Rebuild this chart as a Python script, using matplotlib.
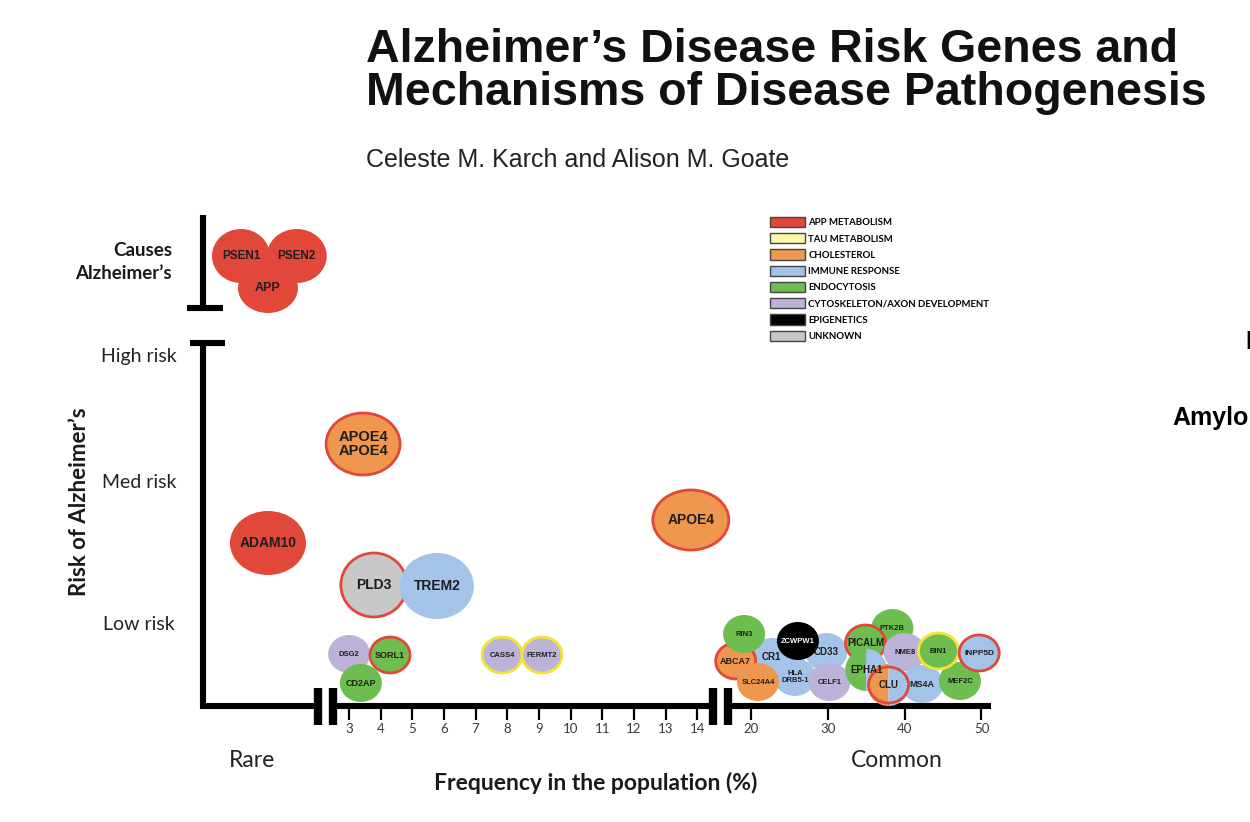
import numpy as np
import matplotlib
matplotlib.use("Agg")
import matplotlib.pyplot as plt
from matplotlib.patches import Ellipse, Wedge, Patch
from matplotlib.transforms import ScaledTranslation

# ---- data ---------------------------------------------------------------
categories = ["APP METABOLISM", "TAU METABOLISM", "CHOLESTEROL", "IMMUNE RESPONSE",
              "ENDOCYTOSIS", "CYTOSKELETON/AXON DEVELOPMENT", "EPIGENETICS", "UNKNOWN"]
cat_colors = ["#e2483a", "#fdf6a8", "#f0974f", "#a3c4e8", "#6dbe4f", "#bdb3d9", "#000000", "#c8c8c8"]

# frequency (%): values < 2 sit in the (not to scale) "rare" zone
genes = ["PSEN1", "PSEN2", "APP", "ADAM10", "APOE4\nAPOE4", "PLD3", "TREM2", "APOE4",
         "DSG2", "SORL1", "CD2AP", "CASS4", "FERMT2",
         "CR1", "HLA\nDRB5-1", "CD33", "ABCA7", "SLC24A4", "RIN3", "ZCWPW1", "CELF1",
         "PTK2B", "PICALM", "NME8", "EPHA1", "MS4A", "CLU", "MEF2C", "BIN1", "INPP5D"]
freq = [0.66, 1.63, 1.13, 1.13, 3.45, 3.79, 5.78, 13.8,
        3.01, 4.30, 3.38, 7.84, 9.10,
        22.7, 25.7, 29.8, 18.0, 20.9, 19.1, 26.1, 30.2,
        38.4, 34.9, 40.0, 35.0, 42.3, 37.9, 47.2, 44.4, 49.7]
risk = [4.50, 4.50, 4.18, 1.63, 2.62, 1.21, 1.20, 1.86,
        0.52, 0.51, 0.23, 0.51, 0.51,
        0.49, 0.29, 0.54, 0.45, 0.24, 0.72, 0.65, 0.24,
        0.78, 0.63, 0.54, 0.36, 0.22, 0.21, 0.25, 0.55, 0.53]
pathway = ["APP METABOLISM", "APP METABOLISM", "APP METABOLISM", "APP METABOLISM",
           "CHOLESTEROL", "UNKNOWN", "IMMUNE RESPONSE", "CHOLESTEROL",
           "CYTOSKELETON/AXON DEVELOPMENT", "ENDOCYTOSIS", "ENDOCYTOSIS",
           "CYTOSKELETON/AXON DEVELOPMENT", "CYTOSKELETON/AXON DEVELOPMENT",
           "IMMUNE RESPONSE", "IMMUNE RESPONSE", "IMMUNE RESPONSE", "CHOLESTEROL", "CHOLESTEROL",
           "ENDOCYTOSIS", "EPIGENETICS", "CYTOSKELETON/AXON DEVELOPMENT",
           "ENDOCYTOSIS", "ENDOCYTOSIS", "CYTOSKELETON/AXON DEVELOPMENT", "ENDOCYTOSIS",
           "IMMUNE RESPONSE", "CHOLESTEROL", "ENDOCYTOSIS", "ENDOCYTOSIS", "IMMUNE RESPONSE"]
pathway2 = {"EPHA1": "IMMUNE RESPONSE", "CLU": "IMMUNE RESPONSE"}
ring = {"APOE4\nAPOE4": "APP METABOLISM", "APOE4": "APP METABOLISM", "PLD3": "APP METABOLISM",
        "SORL1": "APP METABOLISM", "ABCA7": "APP METABOLISM", "PICALM": "APP METABOLISM",
        "CLU": "APP METABOLISM", "INPP5D": "APP METABOLISM",
        "CASS4": "TAU METABOLISM", "FERMT2": "TAU METABOLISM", "BIN1": "TAU METABOLISM"}

risk_ticks = [0.83, 2.25, 3.51]
risk_labels = ["Low risk", "Med risk", "High risk"]
freq_ticks = [3, 4, 5, 6, 7, 8, 9, 10, 11, 12, 13, 14, 20, 30, 40, 50]

# ---- style: bubble size in pixels (w, h) and label size ----------------
big = {"PSEN1": (58, 54, 8.5), "PSEN2": (60, 54, 8.5), "APP": (60, 50, 9),
       "ADAM10": (76, 64, 10), "APOE4\nAPOE4": (76, 64, 10.5), "PLD3": (68, 66, 10),
       "TREM2": (74, 66, 10), "APOE4": (78, 62, 10)}
small = (42, 38, 5.5)
mid_lab = {"PICALM": 7, "EPHA1": 7, "CLU": 7, "CR1": 7, "CD33": 7,
           "MS4A": 6.5, "INPP5D": 6, "SORL1": 6.5, "CD2AP": 6.5, "ABCA7": 6.5}

W, H = 1250, 822
fig = plt.figure(figsize=(W / 100, H / 100), dpi=100)
plt.rcParams["font.family"] = ["Liberation Sans", "DejaVu Sans"]

ax = fig.add_axes([203 / W, 116 / H, 790 / W, 491 / H])
# broken x axis: rare zone | 3-14 % | 20-50 %
kx = [-2, 0, 2, 2.5, 14.5, 17, 51.5, 60]
ku = [88, 203, 318, 333, 713, 728, 993, 1062]
ax.set_xscale("function", functions=(lambda v: np.interp(v, kx, ku),
                                     lambda u: np.interp(u, ku, kx)))
ax.set_xlim(0, 51.5)
ax.set_ylim(0, 4.91)
for s in ax.spines.values():
    s.set_visible(False)
ax.patch.set_alpha(0)

ax.set_xticks(freq_ticks)
ax.set_xticklabels([str(t) for t in freq_ticks], fontfamily="Lato", fontsize=9.5, color="#3a3a3a")
ax.tick_params(axis="x", length=10, width=1.6, pad=2, direction="out")
ax.set_yticks(risk_ticks)
ax.set_yticklabels(risk_labels, fontfamily="Lato", fontsize=14, color="#222222")
ax.tick_params(axis="y", length=0, pad=46)
for t in ax.get_yticklabels():
    t.set_ha("center")

# axis lines
lw = 4.4
kw = dict(color="black", clip_on=False, solid_joinstyle="miter", solid_capstyle="butt", zorder=2)
ax.plot([0, 0, 2], [3.63, 0, 0], lw=lw, **kw)
ax.plot([2.5, 14.5], [0, 0], lw=lw, **kw)
ax.plot([17, 51.2], [0, 0], lw=lw, **kw)
for bx in [2, 2.5, 14.5, 17]:
    ax.plot([bx, bx], [-0.19, 0.18], lw=6, **kw)
ax.plot([-0.23, 0.38], [3.63, 3.63], lw=lw, **kw)
ax.plot([0, 0], [3.98, 4.91], lw=lw, **kw)
ax.plot([-0.28, 0.35], [3.98, 3.98], lw=lw, **kw)

col = dict(zip(categories, cat_colors))


def bubble(x, y, w, h, fc, fc2=None, ec=None, z=3):
    tr = fig.dpi_scale_trans + ScaledTranslation(x, y, ax.transData)
    if fc2 is None:
        ax.add_patch(Ellipse((0, 0), w / 100, h / 100, transform=tr, fc=fc, ec="none",
                             clip_on=False, zorder=z))
    else:
        r = w / 200
        ax.add_patch(Wedge((0, 0), r, 90, 270, transform=tr, fc=fc, ec="none", clip_on=False, zorder=z))
        ax.add_patch(Wedge((0, 0), r, 270, 90, transform=tr, fc=fc2, ec="none", clip_on=False, zorder=z))
    if ec is not None:
        ax.add_patch(Ellipse((0, 0), w / 100 - 0.02, h / 100 - 0.02, transform=tr, fc="none",
                             ec=ec, lw=2, clip_on=False, zorder=z + 0.01))


for i, g in enumerate(genes):
    w, h, fs = big.get(g, small)
    fs = mid_lab.get(g, fs)
    z = 3 + i * 0.05
    ec = col[ring[g]] if g in ring else None
    if ec == col["TAU METABOLISM"]:
        ec = "#f4e433"
    fc2 = col[pathway2[g]] if g in pathway2 else None
    bubble(freq[i], risk[i], w, h, col[pathway[i]], fc2, ec, z)
    ax.text(freq[i], risk[i], g, ha="center", va="center", fontsize=fs, fontweight="bold",
            color="white" if pathway[i] == "EPIGENETICS" else "#1e1e1e",
            linespacing=1.0, zorder=10, clip_on=False)

# legend
handles = [Patch(fc=c, ec="#444444", lw=1) for c in cat_colors]
fig.legend(handles, categories, loc="upper left", bbox_to_anchor=(770 / W, 1 - 217 / H),
           frameon=False, prop=dict(family="Lato", weight="bold", size=6.9),
           handlelength=3.6, handleheight=1.25, labelspacing=0.62, handletextpad=0.4,
           borderpad=0, borderaxespad=0)

# texts
fig.text(366 / W, 1 - 62 / H, "Alzheimer\u2019s Disease Risk Genes and", fontsize=33.5,
         fontweight="bold", va="baseline", color="#111111")
fig.text(366 / W, 1 - 105 / H, "Mechanisms of Disease Pathogenesis", fontsize=33.5,
         fontweight="bold", va="baseline", color="#111111")
fig.text(366 / W, 1 - 167 / H, "Celeste M. Karch and Alison M. Goate", fontsize=18,
         va="baseline", color="#222222")
fig.text(172 / W, 1 - 262 / H, "Causes\nAlzheimer\u2019s", fontfamily="Lato", fontsize=13.5,
         fontweight="bold", ha="right", va="center", linespacing=1.4, color="#1a1a1a")
fig.text(80 / W, 1 - 502 / H, "Risk of Alzheimer\u2019s", fontfamily="Lato", fontsize=16,
         fontweight="bold", rotation=90, ha="center", va="center", color="#1a1a1a")
fig.text(252 / W, 1 - 760 / H, "Rare", fontfamily="Lato", fontsize=16.5, ha="center",
         va="center", color="#222222")
fig.text(897 / W, 1 - 760 / H, "Common", fontfamily="Lato", fontsize=16.5, ha="center",
         va="center", color="#222222")
fig.text(596 / W, 1 - 783 / H, "Frequency in the population (%)", fontfamily="Lato",
         fontsize=16.5, fontweight="bold", ha="center", va="center", color="#1a1a1a")
fig.text(1172 / W, 1 - 425 / H, "Amyloid", fontsize=18, fontweight="bold", va="baseline")
fig.text(1245 / W, 1 - 349 / H, "P", fontsize=18, fontweight="bold", va="baseline")

fig.savefig("out.png", dpi=100)
